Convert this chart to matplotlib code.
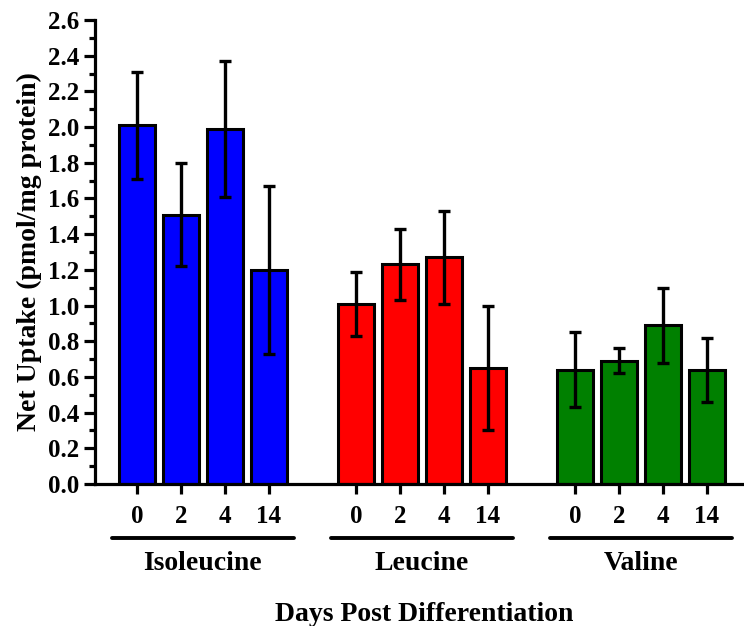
import matplotlib
matplotlib.use("Agg")
import matplotlib.pyplot as plt
from matplotlib.ticker import MultipleLocator, FormatStrFormatter
import matplotlib.transforms as mtransforms

# Net uptake of branched-chain amino acids by day post differentiation
days = ["0", "2", "4", "14"]
amino_acids = ["Isoleucine", "Leucine", "Valine"]
colors = ["#0000FF", "#FF0000", "#008000"]

isoleucine_mean = [2.01, 1.51, 1.99, 1.20]
isoleucine_err = [0.30, 0.29, 0.38, 0.47]
leucine_mean = [1.01, 1.23, 1.27, 0.65]
leucine_err = [0.18, 0.20, 0.26, 0.35]
valine_mean = [0.64, 0.69, 0.89, 0.64]
valine_err = [0.21, 0.07, 0.21, 0.18]

means = [isoleucine_mean, leucine_mean, valine_mean]
errs = [isoleucine_err, leucine_err, valine_err]

plt.rcParams["font.family"] = ["Liberation Serif", "DejaVu Serif"]
plt.rcParams["font.weight"] = "bold"

fig = plt.figure(figsize=(7.44, 6.26), dpi=100)
W, H = 744, 626
left, right, top, bottom = 95, 744, 20, 484
ax = fig.add_axes([left / W, 1 - bottom / H, (right - left) / W, (bottom - top) / H])
trans = mtransforms.blended_transform_factory(ax.transData, ax.transAxes)

group_gap = 5
bar_w = 0.82
tick_pos = []
tick_lab = []
for g, (name, col) in enumerate(zip(amino_acids, colors)):
    xs = [g * group_gap + i for i in range(len(days))]
    ax.bar(xs, means[g], width=bar_w, color=col, edgecolor="black",
           linewidth=2.2, zorder=2)
    ax.errorbar(xs, means[g], yerr=errs[g], fmt="none", ecolor="black",
                elinewidth=2.4, capsize=4.5, capthick=2.4, zorder=3)
    tick_pos += xs
    tick_lab += days
    # group underline and name below the day labels
    ax.plot([xs[0] - 0.57, xs[-1] + 0.57], [-0.116, -0.116], color="black",
            linewidth=2.8, transform=trans, clip_on=False, solid_capstyle="round")
    ax.text((xs[0] + xs[-1]) / 2, -0.185, name, transform=trans,
            ha="center", va="baseline", fontsize=20, fontweight="bold")

ax.set_xlim(-0.96, 13.85)
ax.set_ylim(0, 2.6)
ax.set_xticks(tick_pos)
ax.set_xticklabels(tick_lab, fontsize=18, fontweight="bold")
ax.yaxis.set_major_locator(MultipleLocator(0.2))
ax.yaxis.set_minor_locator(MultipleLocator(0.1))
ax.yaxis.set_major_formatter(FormatStrFormatter("%.1f"))
for lab in ax.get_yticklabels():
    lab.set_fontsize(18)
    lab.set_fontweight("bold")

ax.tick_params(axis="x", which="major", direction="out", length=7, width=2.3, pad=8)
ax.tick_params(axis="y", which="major", direction="out", length=8, width=2.3, pad=3)
ax.tick_params(axis="y", which="minor", direction="out", length=4, width=2.3)

for side in ["top", "right"]:
    ax.spines[side].set_visible(False)
for side in ["left", "bottom"]:
    ax.spines[side].set_linewidth(2.3)

fig.text(29 / W, 1 - 252 / H, "Net Uptake (pmol/mg protein)", rotation=90,
         ha="center", va="center", fontsize=20, fontweight="bold")
fig.text(424 / W, 1 - 621 / H, "Days Post Differentiation", ha="center", va="baseline",
         fontsize=20, fontweight="bold")

fig.savefig("out.png", dpi=100)
